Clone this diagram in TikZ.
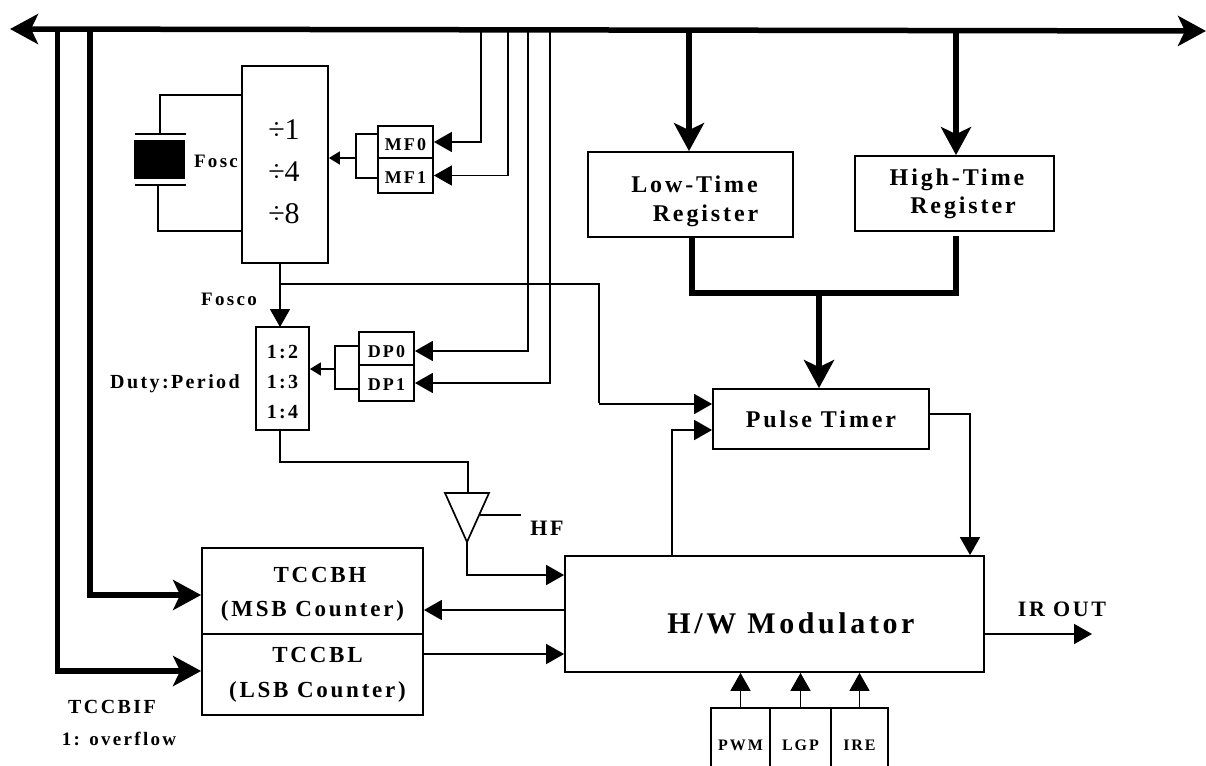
\documentclass[tikz,border=0pt]{standalone}
\usepackage{fontspec}
\usepackage{tikz}
\usetikzlibrary{arrows.meta,positioning,calc}
\newfontfamily\labfont[LetterSpace=12]{Liberation Serif}
\begin{document}
\begin{tikzpicture}[x=1pt, y=-1pt,
  lab/.style={font=\labfont\bfseries\fontsize{#1}{#1}\selectfont, inner sep=0pt, align=center},
  lab/.default=18,
  box/.style={draw, line width=1.8pt, inner sep=0pt, align=center},
  wire/.style={line width=1.7pt},
  arr/.style={wire, -{Triangle[length=18pt,width=20pt]}},
  sarr/.style={wire, -{Triangle[length=11pt,width=13pt]}},
  fat/.style={line width=5.5pt},
  fatarr/.style={fat, -{Stealth[length=28pt,width=30pt,inset=7pt]}}]
\useasboundingbox (0,0) rectangle (1206,765);
% system bus
\coordinate (busl) at (10,29);
\coordinate (busr) at (1206,31);
\coordinate (busf) at (57.5,30);
\coordinate (busg) at (90,30);
\coordinate (busa) at (481,30);
\coordinate (busb) at (508,30);
\coordinate (busc) at (528,30);
\coordinate (busd) at (550,30);
\coordinate (bust) at (689,30);
\coordinate (busu) at (956,30);
\draw[fat, {Stealth[length=28pt,width=30pt,inset=7pt]}-{Stealth[length=28pt,width=30pt,inset=7pt]}] (busl) -- (busr);
% oscillator and prescaler
\node[box, minimum width=86pt, minimum height=197pt] (div) at (285,164.5) {};
\node[inner sep=0pt, align=center, font=\fontspec{Liberation Serif}\fontsize{30}{30}\selectfont] (ratio) at ([shift={(-1,7)}]div.center) {\char"00F7 1\\[12pt]\char"00F7 4\\[12pt]\char"00F7 8};
\node[box, fill=black, minimum width=49pt, minimum height=37pt] (xtal) at (159.5,159.5) {};
\coordinate (plateal) at (135,134);
\coordinate (platear) at (186,134);
\coordinate (platebl) at (135,185);
\coordinate (platebr) at (186,185);
\coordinate (xtop) at (160,134);
\coordinate (xbot) at (158,185);
\coordinate (divt) at (242,95);
\coordinate (divb) at (242,231);
\draw[wire] (plateal) -- (platear);
\draw[wire] (platebl) -- (platebr);
\draw[wire] (xtop) |- (divt);
\draw[wire] (xbot) |- (divb);
\node[lab=19] (fosc) at (216,161) {Fosc};
\node[box, minimum width=55pt, minimum height=32pt, lab=18] (mf0) at (405.5,142) {\rule{0pt}{18pt}MF0};
\node[box, minimum width=55pt, minimum height=35pt, lab=18] (mf1) at (405.5,175.5) {\rule{0pt}{16pt}MF1};
\coordinate (mfj) at (356,158);
\draw[wire] (mf0.west |- 0,134) -| (mfj);
\draw[wire] (mf1.west |- 0,178) -| (mfj);
\draw[sarr] (mfj) -- (div.east |- mfj);
\draw[arr] (busa) |- (mf0.east);
\draw[arr] (busb) |- (mf1.east);
% duty ratio selection
\node[box, minimum width=53pt, minimum height=103pt, lab=20] (duty) at (282.5,378.5) {\rule{0pt}{20pt}1:2\\[10pt]1:3\\[10pt]1:4};
\node[lab=20] (dutyl) at (175,384) {Duty:Period};
\node[lab=19] (fosco) at (229,299) {Fosco};
\node[box, minimum width=55pt, minimum height=33pt, lab=18] (dp0) at (386.5,348.5) {\rule{0pt}{18pt}DP0};
\node[box, minimum width=55pt, minimum height=36pt, lab=18] (dp1) at (386.5,383) {\rule{0pt}{16pt}DP1};
\coordinate (dpj) at (335,369);
\draw[wire] (dp0.west |- 0,346) -| (dpj);
\draw[wire] (dp1.west |- 0,389) -| (dpj);
\draw[sarr] (dpj) -- (duty.east |- dpj);
\draw[arr] (busc) |- ([yshift=-2.5pt]dp0.east);
\draw[arr] (busd) |- (dp1.east);
\coordinate (divo) at (280,263);
\coordinate (dutyi) at (280,327);
\coordinate (foscoj) at (280,284);
\coordinate (foscok) at (599,284);
\draw[arr] (divo) -- (dutyi);
\draw[wire] (foscoj) -- (foscok);
\draw[wire] ([yshift=1pt]foscok) -- +(0,120);
% high frequency buffer
\coordinate (duo) at (280,430);
\coordinate (trii) at (468,493);
\draw[wire] (duo) |- (468,462) -- (trii);
\coordinate (tria) at (445,493);
\coordinate (trib) at (489,493);
\coordinate (tric) at (467,542);
\draw[wire] (tria) -- (trib) -- (tric) -- cycle;
\coordinate (hfa) at (480,515);
\coordinate (hfb) at (521,515);
\draw[wire] (hfa) -- (hfb);
\node[lab=22] (hf) at (547,528) {HF};
% registers and timer
\node[box, minimum width=205pt, minimum height=85pt, lab=24] (low) at (690.5,194.5) {\rule{0pt}{30pt}\hspace*{8pt}Low-Time\\[5pt]\hspace*{30pt}Register};
\node[box, minimum width=199pt, minimum height=75pt, lab=24] (high) at (954.5,193.5) {\hspace*{5pt}High-Time\\[4pt]\hspace*{17pt}Register};
\node[box, minimum width=216pt, minimum height=60pt, lab=24] (pulse) at (821,419) {Pulse Timer};
\draw[fatarr] (bust) -- (low.north -| bust);
\draw[fatarr] (busu) -- (high.north -| busu);
\coordinate (merge) at (819,293);
\coordinate (lowo) at (692,237);
\coordinate (higho) at (956,236);
\draw[fat] (lowo) |- (merge);
\draw[fat] (higho) |- (merge);
\draw[fatarr] (merge) -- (pulse.north -| merge);
\draw[arr] (foscok |- 0,404) -- (pulse.west |- 0,404);
% counters and modulator
\node[box, minimum width=221pt, minimum height=86pt, lab=23] (tccbh) at (312.5,591) {\rule{0pt}{21pt}\hspace*{15pt}TCCBH\\[11pt](MSB Counter)};
\node[box, minimum width=221pt, minimum height=81pt, lab=23] (tccbl) at (312.5,674.5) {\hspace*{10pt}TCCBL\\[12pt]\hspace*{10pt}(LSB Counter)};
\node[box, minimum width=419pt, minimum height=116pt] (mod) at (774.5,614) {};
\node[lab=30] (modl) at (791,623) {H/W Modulator};
\draw[arr] (tric) |- (mod.west |- 0,575);
\draw[arr] (mod.west |- 0,610) -- (tccbh.east |- 0,610);
\draw[arr] (tccbl.east |- 0,654) -- (mod.west |- 0,654);
\draw[fatarr] (busg) |- (tccbh.west |- 0,595);
\draw[fatarr] (busf) |- (tccbl.west |- 0,671);
\draw[arr] (mod.north -| 672,0) |- (pulse.west |- 0,430);
\draw[arr] (pulse.east |- 0,414) -| (mod.north -| 970,0);
\node[lab=20] (tif) at (112,707) {TCCBIF};
\node[lab=19] (tifb) at (119,739) {1: overflow};
\coordinate (irout) at (1092,634);
\draw[arr] (mod.east |- irout) -- (irout);
\node[lab=22] (irl) at (1062,609) {IR OUT};
% control bits
\node[box, minimum width=59pt, minimum height=74pt, lab=16] (pwm) at (740.5,745) {PWM};
\node[box, minimum width=61pt, minimum height=74pt, lab=16] (lgp) at (800.5,745) {LGP};
\node[box, minimum width=57pt, minimum height=74pt, lab=16] (ire) at (859.5,745) {IRE};
\draw[arr] (pwm.north) -- (mod.south -| pwm.north);
\draw[arr] (lgp.north) -- (mod.south -| lgp.north);
\draw[arr] (ire.north) -- (mod.south -| ire.north);
\end{tikzpicture}
\end{document}
